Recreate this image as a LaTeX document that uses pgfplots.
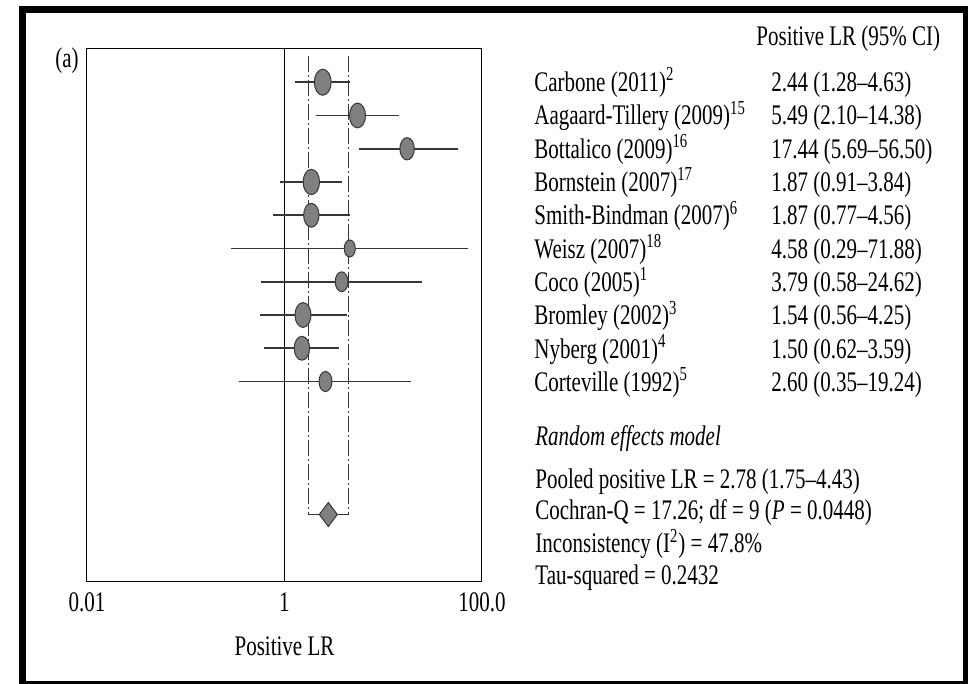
\documentclass[border=0pt]{standalone}
\usepackage{pgfplots}
\pgfplotsset{compat=1.18}
\usepackage{fontspec}
\setmainfont{Liberation Serif}
\usepackage{graphicx}
\newcommand{\st}[1]{\scalebox{1}[1.35]{#1}}
\definecolor{mk}{RGB}{128,128,128}
\definecolor{ln}{RGB}{55,55,55}
\tikzset{fs/.style={font=\fontsize{10.5pt}{12pt}\selectfont}}
\begin{document}
\begin{tikzpicture}[fs]
\path[use as bounding box] (0,0) rectangle (484pt,342pt);
\draw[line width=3.5pt] (11.25pt,337pt) rectangle (483.25pt,-0.25pt);
\begin{axis}[at={(43.5pt,51.5pt)}, anchor=south west, scale only axis,
  width=197.5pt, height=266pt,
  xmode=log, xmin=0.01, xmax=100, ymin=0, ymax=16, y dir=reverse,
  xtick={0.01,1,100}, xticklabels={\st{0.01},\st{1},\st{100.0}},
  ytick=\empty, major tick length=0pt, minor tick length=0pt, xminorticks=false,
  xticklabel style={anchor=base, yshift=-15pt, fs},
  xlabel={\st{Positive LR}},
  xlabel style={at={(axis description cs:0.5,0)}, anchor=base, yshift=-37pt, fs},
  axis line style={line width=0.5pt}, clip=false]
\addplot[black, line width=0.5pt] coordinates {(1,0) (1,16)};
\addplot[ln, line width=0.75pt, dash pattern=on 8pt off 1.5pt on 1pt off 1.5pt] coordinates {(1.75,0.2) (1.75,14)};
\addplot[ln, line width=0.75pt, dash pattern=on 8pt off 1.5pt on 1pt off 1.5pt] coordinates {(4.43,0.2) (4.43,14)};
\addplot[ln, line width=0.8pt] coordinates {(1.75,14) (4.43,14)};
% confidence intervals
\pgfplotsset{ci/.style={ln, line width=0.9pt}}
\addplot[ci] coordinates {(1.28,1) (4.63,1)};
\addplot[ci] coordinates {(2.10,2) (14.38,2)};
\addplot[ci] coordinates {(5.69,3) (56.50,3)};
\addplot[ci] coordinates {(0.91,4) (3.84,4)};
\addplot[ci] coordinates {(0.77,5) (4.56,5)};
\addplot[ci] coordinates {(0.29,6) (71.88,6)};
\addplot[ci] coordinates {(0.58,7) (24.62,7)};
\addplot[ci] coordinates {(0.56,8) (4.25,8)};
\addplot[ci] coordinates {(0.62,9) (3.59,9)};
\addplot[ci] coordinates {(0.35,10) (19.24,10)};
% point estimates
\pgfplotsset{est/.style={only marks, mark=*, mark options={fill=mk, draw=ln, line width=0.5pt, yscale=1.55}}}
\addplot[est, mark size=4.2pt] coordinates {(2.44,1)};
\addplot[est, mark size=4.0pt] coordinates {(5.49,2)};
\addplot[est, mark size=3.6pt] coordinates {(17.44,3)};
\addplot[est, mark size=4.1pt] coordinates {(1.87,4)};
\addplot[est, mark size=3.85pt] coordinates {(1.87,5)};
\addplot[est, mark size=2.75pt] coordinates {(4.58,6)};
\addplot[est, mark size=3.2pt] coordinates {(3.79,7)};
\addplot[est, mark size=4.0pt] coordinates {(1.54,8)};
\addplot[est, mark size=3.85pt] coordinates {(1.50,9)};
\addplot[est, mark size=3.25pt] coordinates {(2.60,10)};
\addplot[only marks, mark=diamond*, mark size=6pt, mark options={fill=mk, draw=ln, line width=0.5pt}] coordinates {(2.78,14)};
\end{axis}
\node[anchor=base west, inner sep=0pt] at (27.5pt,308pt) {\st{(a)}};
\node[anchor=base west, inner sep=0pt] at (378pt,319pt) {\st{Positive LR (95\% CI)}};
\foreach \n/\v [count=\k from 0] in {
  {Carbone (2011)\textsuperscript{2}}/{2.44 (1.28–4.63)},
  {Aagaard-Tillery (2009)\textsuperscript{15}}/{5.49 (2.10–14.38)},
  {Bottalico (2009)\textsuperscript{16}}/{17.44 (5.69–56.50)},
  {Bornstein (2007)\textsuperscript{17}}/{1.87 (0.91–3.84)},
  {Smith-Bindman (2007)\textsuperscript{6}}/{1.87 (0.77–4.56)},
  {Weisz (2007)\textsuperscript{18}}/{4.58 (0.29–71.88)},
  {Coco (2005)\textsuperscript{1}}/{3.79 (0.58–24.62)},
  {Bromley (2002)\textsuperscript{3}}/{1.54 (0.56–4.25)},
  {Nyberg (2001)\textsuperscript{4}}/{1.50 (0.62–3.59)},
  {Corteville (1992)\textsuperscript{5}}/{2.60 (0.35–19.24)}}{
  \node[anchor=base west, inner sep=0pt] at (267pt,{296.15pt-16.65pt*\k}) {\st{\n}};
  \node[anchor=base west, inner sep=0pt] at (385.5pt,{296.15pt-16.65pt*\k}) {\st{\v}};
}
\node[anchor=base west, inner sep=0pt] at (267.5pt,119pt) {\st{\textit{Random effects model}}};
\node[anchor=base west, inner sep=0pt] at (267.5pt,97.5pt) {\st{Pooled positive LR = 2.78 (1.75–4.43)}};
\node[anchor=base west, inner sep=0pt] at (267.5pt,82pt) {\st{Cochran-Q = 17.26; df = 9 (\textit{P} = 0.0448)}};
\node[anchor=base west, inner sep=0pt] at (267.5pt,65.5pt) {\st{Inconsistency (I\textsuperscript{2}) = 47.8\%}};
\node[anchor=base west, inner sep=0pt] at (267.5pt,49.5pt) {\st{Tau-squared = 0.2432}};
\end{tikzpicture}
\end{document}
